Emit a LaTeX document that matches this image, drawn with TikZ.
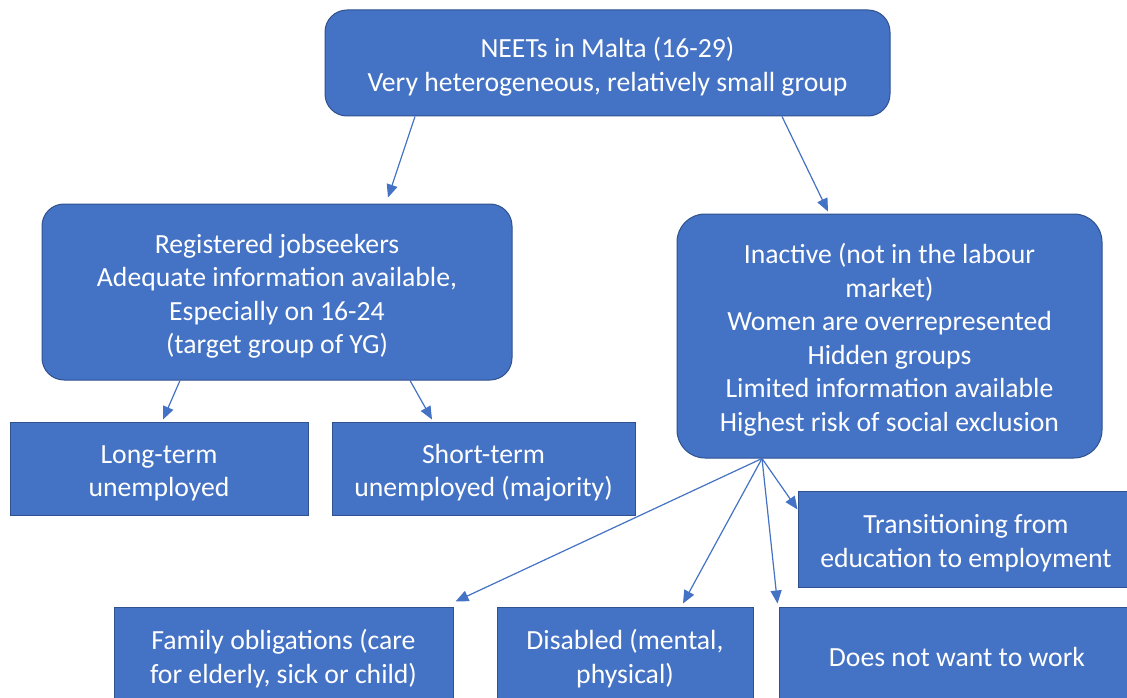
\documentclass[tikz,border=0pt]{standalone}
\usepackage{fontspec}
\setmainfont{Carlito}
\usetikzlibrary{arrows.meta}
\definecolor{boxblue}{HTML}{4472C4}
\definecolor{boxedge}{HTML}{2F528F}
\definecolor{arrowblue}{HTML}{4472C4}
\newcommand{\fls}{\rule{0pt}{27.5pt}}
\begin{document}
\begin{tikzpicture}[x=1pt,y=-1pt,
  box/.style={draw=boxedge, line width=1pt, fill=boxblue, text=white, align=center,
    inner sep=0pt, font=\fontsize{27.7}{33.5}\selectfont},
  rbox/.style={box, rounded corners=22pt},
  conn/.style={draw=arrowblue, line width=1.2pt, -{Triangle[length=13pt,width=11pt]}}]
\useasboundingbox (0,0) rectangle (1127,698);
\clip (0,0) rectangle (1127,698);
\fill[white] (0,0) rectangle (1127,698);

\node[rbox, minimum width=565pt, minimum height=106pt] (top) at (607.5,63)
  {\fls NEETs in Malta (16-29)\\Very heterogeneous, relatively small group};
\node[rbox, minimum width=470pt, minimum height=176pt] (reg) at (277,292)
  {\fls Registered jobseekers\\Adequate information available,\\Especially on 16-24\\(target group of YG)};
\node[rbox, rounded corners=28pt, minimum width=425pt, minimum height=244pt] (inact) at (889.5,336)
  {\fls Inactive (not in the labour\\market)\\Women are overrepresented\\Hidden groups\\Limited information available\\Highest risk of social exclusion};
\node[box, minimum width=298pt, minimum height=93pt] (long) at (159,468.5)
  {\fls Long-term\\unemployed};
\node[box, minimum width=303pt, minimum height=93pt] (short) at (483.5,468.5)
  {\fls Short-term\\unemployed (majority)};
\node[box, minimum width=336pt, minimum height=96pt] (trans) at (966,539)
  {\fls Transitioning from\\education to employment};
\node[box, minimum width=339pt, minimum height=96pt] (family) at (283.5,655)
  {\fls Family obligations (care\\for elderly, sick or child)};
\node[box, minimum width=256pt, minimum height=96pt] (dis) at (625,655)
  {\fls Disabled (mental,\\physical)};
\node[box, minimum width=356pt, minimum height=100pt] (dnw) at (957,657)
  {Does not want to work};

\draw[conn] ([xshift=-192.5pt]top.south) -- ([xshift=111pt,yshift=6pt]reg.north);
\draw[conn] ([xshift=174.5pt]top.south) -- ([xshift=-61.5pt,yshift=2pt]inact.north);
\draw[conn] ([xshift=-97pt]reg.south) -- ([xshift=4pt,yshift=2pt]long.north);
\draw[conn] ([xshift=133pt]reg.south) -- ([xshift=-51.5pt,yshift=2pt]short.north);
\coordinate (hub) at ([xshift=-127.5pt]inact.south);
\draw[conn] (hub) -- ([xshift=172pt,yshift=5pt]family.north);
\draw[conn] (hub) -- ([xshift=58pt,yshift=3pt]dis.north);
\draw[conn] (hub) -- ([xshift=-1pt,yshift=3pt]dnw.north west);
\draw[conn] (hub) -- ([yshift=-19pt]trans.north west);
\end{tikzpicture}
\end{document}
